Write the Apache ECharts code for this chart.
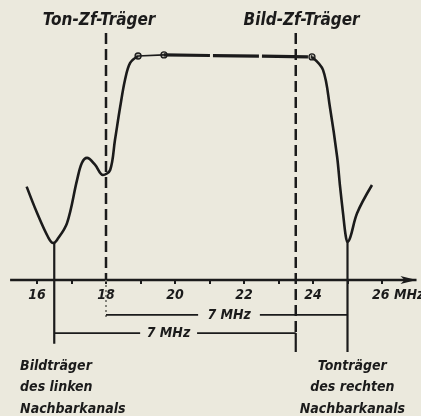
<!DOCTYPE html>
<html>
<head>
<meta charset="utf-8">
<script src="https://cdn.jsdelivr.net/npm/echarts@6/dist/echarts.min.js"></script>
<style>
  html, body { margin: 0; padding: 0; background: #ebe9dd; }
  #chart { width: 421px; height: 416px; }
</style>
</head>
<body>
<div id="chart"></div>
<script>
// frequency axis (MHz), response in % of the flat top
const tickValues = [16, 18, 20, 22, 24, 26];
const tickLabels = ['16', '18', '20', '22', '24', '26 MHz'];
const minorTicks = [16, 17, 18, 19, 20, 21, 22, 23, 24, 25, 26];
const curveLeft = [[15.70, 41.7], [16.0, 30.0], [16.32, 19.2], [16.47, 16.5], [16.58, 17.9], [16.87, 25.4], [17.16, 44.6], [17.30, 52.2], [17.45, 54.5], [17.68, 51.5], [17.91, 46.9], [18.12, 49.1], [18.26, 62.5], [18.41, 77.2], [18.55, 89.3], [18.70, 96.9], [18.93, 100.0]];
const curveJoin = [[18.93, 100.0], [19.68, 100.5]];
const curveTop = [[19.68, 100.5], [23.97, 99.6]];
const curveRight = [[23.97, 99.6], [24.29, 93.8], [24.49, 77.2], [24.70, 54.9], [24.78, 42.4], [24.87, 29.9], [24.95, 19.5], [25.0, 17.0], [25.08, 19.0], [25.28, 29.9], [25.71, 42.4]];
const markers = [[18.93, 100.0], [19.68, 100.5], [23.97, 99.6]];

const tonZf = 18, bildZf = 23.5;          // carriers (dashed)
const bildLinks = 16.5, tonRechts = 25;    // neighbour carriers (solid)
const dimUpper = [[18, -15.6], [20.67, -15.6], [22.46, -15.6], [25, -15.6]];
const dimLower = [[16.5, -23.7], [18.99, -23.7], [20.64, -23.7], [23.5, -23.7]];
const dimText = [['7 MHz', 21.57, -15.6], ['7 MHz', 19.81, -23.7]];
const topText = [['Ton-Zf-Träger', 17.8, 116], ['Bild-Zf-Träger', 23.67, 116]];
const bottomText = [['Bildträger\ndes linken\nNachbarkanals', 15.51, -48, 'left'], ['Tonträger\ndes rechten\nNachbarkanals', 25.14, -48, 'center']];

const ink = '#1b1b1b';
const font = { fontFamily: 'DejaVu Sans Condensed', fontStyle: 'italic', fontWeight: 'bold', color: ink };

function line(data, width, extra) {
  return Object.assign({
    type: 'line', data: data, symbol: 'none', silent: true,
    lineStyle: { color: ink, width: width }
  }, extra || {});
}

function textSeries(items, size) {
  return {
    type: 'scatter', symbolSize: 0, silent: true, clip: false,
    itemStyle: { opacity: 1 },
    data: items.map(t => ({
      value: [t[1], t[2]],
      label: Object.assign({ show: true, formatter: t[0], position: 'inside',
        align: t[3] || 'center', verticalAlign: 'middle', fontSize: size, lineHeight: 21.5 }, font)
    }))
  };
}

// tick labels sit just below the frequency axis; the last one carries the unit
const tickText = tickValues.map((v, i) => i === tickValues.length - 1
  ? [tickLabels[i], v - 0.29, -6.7, 'left'] : [tickLabels[i], v, -6.7]);

const chart = echarts.init(document.getElementById('chart'));
chart.setOption({
  backgroundColor: '#ebe9dd',
  animation: false,
  grid: { left: 2.5, right: 4.5, top: 0, bottom: 1.6, outerBoundsMode: 'none', containLabel: false },
  xAxis: {
    type: 'value', min: 15, max: 27, interval: 1,
    axisLine: { show: true, onZero: true, lineStyle: { color: ink, opacity: 0 } },
    axisTick: { show: true, length: 4, customValues: minorTicks, lineStyle: { color: ink, width: 2 } },
    splitLine: { show: false },
    axisLabel: { show: false }
  },
  yAxis: {
    type: 'value', min: -60, max: 125,
    axisLine: { show: false }, axisTick: { show: false }, axisLabel: { show: false },
    splitLine: { show: false }
  },
  series: [
    // frequency axis with arrow
    line([{ value: [15.22, 0] }, { value: [27.0, 0], symbol: 'arrow', symbolSize: [6, 16], symbolRotate: -90, itemStyle: { color: ink } }], 2.5),
    // response curve
    line(curveLeft, 2.6, { smooth: 0.35 }),
    line(curveJoin, 1.6),
    line(curveTop, 3.2, { lineStyle: { color: ink, width: 3.2, type: [46, 3] } }),
    line(curveRight, 2.6, { smooth: 0.35 }),
    {
      type: 'scatter', data: markers, symbol: 'circle', symbolSize: 6, silent: true,
      itemStyle: { color: '#b9b8ae', borderColor: ink, borderWidth: 1.3, opacity: 1 }
    },
    // carriers
    line([[tonZf, 110.3], [tonZf, 0]], 2.5, { lineStyle: { color: ink, width: 2.5, type: [11, 5] } }),
    line([[tonZf, 0], [tonZf, -17]], 1.6, { lineStyle: { color: '#77766e', width: 1.8, type: [2, 3] } }),
    line([[bildZf, 110.3], [bildZf, -23.7]], 2.5, { lineStyle: { color: ink, width: 2.5, type: [11, 5] } }),
    line([[bildZf, -23.7], [bildZf, -32.1]], 2.2),
    line([[bildLinks, 16.5], [bildLinks, -28.5]], 2.2),
    line([[tonRechts, 17.0], [tonRechts, -32.1]], 2.2),
    // 7 MHz dimension lines
    line(dimUpper.slice(0, 2), 1.8),
    line(dimUpper.slice(2), 1.8),
    line(dimLower.slice(0, 2), 1.8),
    line(dimLower.slice(2), 1.8),
    textSeries(tickText, 14),
    textSeries(dimText, 14),
    textSeries(topText, 17),
    textSeries(bottomText, 14)
  ]
});
</script>
</body>
</html>
